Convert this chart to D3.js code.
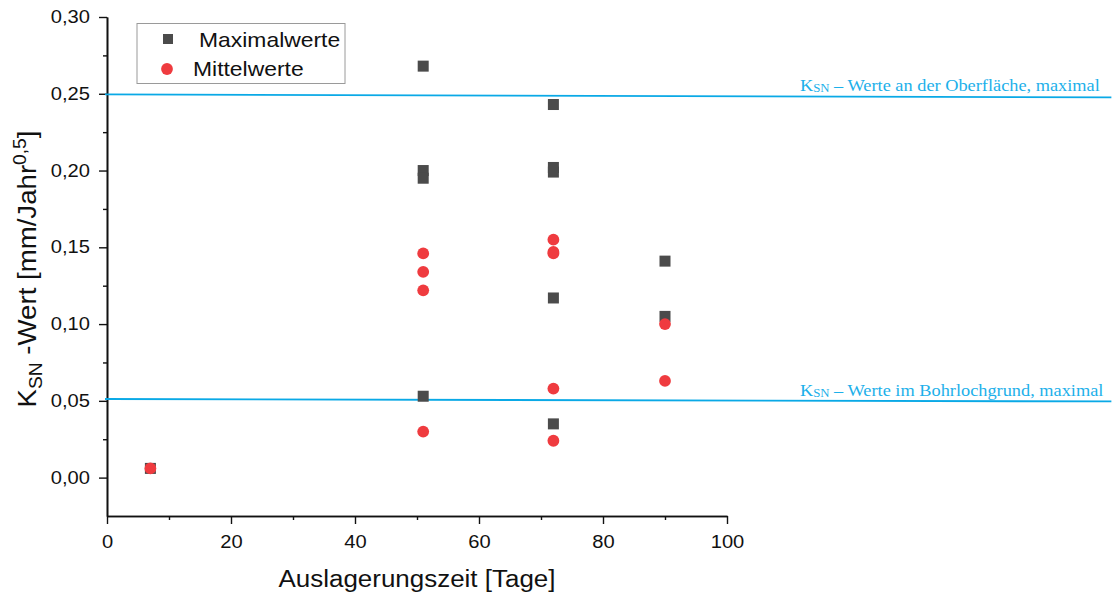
<!DOCTYPE html>
<html>
<head>
<meta charset="utf-8">
<script src="https://cdn.jsdelivr.net/npm/d3@7"></script>
<style>
  html, body { margin: 0; padding: 0; background: #fff; }
  svg { display: block; font-family: "Liberation Sans", Arial, sans-serif; }
</style>
</head>
<body>
<svg id="chart" width="1112" height="596"></svg>
<script>
// ---------- data ----------
const maxDays  = [7, 51, 51, 51, 51, 72, 72, 72, 72, 72, 90, 90];
const maxVals  = [0.006, 0.268, 0.200, 0.195, 0.053, 0.243, 0.202, 0.199, 0.117, 0.035, 0.141, 0.105];
const meanDays = [7, 51, 51, 51, 51, 72, 72, 72, 72, 72, 90, 90];
const meanVals = [0.006, 0.146, 0.134, 0.122, 0.030, 0.155, 0.147, 0.146, 0.058, 0.024, 0.100, 0.063];

const seriesNames = ["Maximalwerte", "Mittelwerte"];
const xTicks = [0, 20, 40, 60, 80, 100];
const xMinorTicks = [10, 30, 50, 70, 90];
const yTicks = [0, 0.05, 0.10, 0.15, 0.20, 0.25, 0.30];
const yMinorTicks = [0.025, 0.075, 0.125, 0.175, 0.225, 0.275];

// reference lines: value at left end and right end (lines are slightly tilted in original)
const refNames = ["Werte an der Oberfläche, maximal", "Werte im Bohrlochgrund, maximal"];
const refStart = [0.2496, 0.0512];
const refEnd   = [0.2476, 0.0496];
const refDayFrom = 0, refDayTo = 162;

// ---------- layout ----------
const svg = d3.select("#chart");
const x = d3.scaleLinear().domain([0, 100]).range([107, 727]);
const y = d3.scaleLinear().domain([-0.025, 0.30]).range([516, 17]);

const fmt = d => d3.format(".2f")(d).replace(".", ",");
function stretch(sel, k) {
  sel.each(function () {
    const L = this.getComputedTextLength();
    this.setAttribute("textLength", L * k);
    this.setAttribute("lengthAdjust", "spacingAndGlyphs");
  });
}

const lineCol = "#0aa9e6", textCol = "#1cb0ea";
const sqCol = "#4b4b4b", ciCol = "#ef3b3f";

// ---------- axes ----------
const gx = svg.append("g").attr("transform", `translate(0,${y.range()[0]})`)
  .call(d3.axisBottom(x).tickValues(xTicks).tickFormat(d3.format("d")).tickSize(8).tickSizeOuter(0).tickPadding(12));
const gxm = svg.append("g").attr("transform", `translate(0,${y.range()[0]})`)
  .call(d3.axisBottom(x).tickValues(xMinorTicks).tickFormat("").tickSize(4).tickSizeOuter(0));
const gy = svg.append("g").attr("transform", `translate(${x.range()[0]},0)`)
  .call(d3.axisLeft(y).tickValues(yTicks).tickFormat(fmt).tickSize(8).tickSizeOuter(0).tickPadding(9));
const gym = svg.append("g").attr("transform", `translate(${x.range()[0]},0)`)
  .call(d3.axisLeft(y).tickValues(yMinorTicks).tickFormat("").tickSize(4).tickSizeOuter(0));

[gx, gxm, gy, gym].forEach(g => {
  g.selectAll("path.domain").attr("stroke", "#111").attr("stroke-width", 1.6);
  g.selectAll(".tick line").attr("stroke", "#111").attr("stroke-width", 1.4);
  g.selectAll("text").attr("fill", "#111").attr("font-size", 17.5)
    .attr("font-family", "'Liberation Sans', Arial, sans-serif");
});
stretch(gx.selectAll(".tick text"), 1.15);
stretch(gy.selectAll(".tick text"), 1.15);

// x axis title
const xt = svg.append("text")
  .attr("x", (x.range()[0] + x.range()[1]) / 2).attr("y", 587)
  .attr("text-anchor", "middle").attr("font-size", 23).attr("fill", "#111")
  .text("Auslagerungszeit [Tage]");
xt.attr("textLength", 277).attr("lengthAdjust", "spacingAndGlyphs");

// y axis title
const yg = svg.append("g").attr("transform", "translate(36,269) scale(1.15,1) rotate(-90)");
const yt = yg.append("text").attr("text-anchor", "middle").attr("font-size", 23).attr("fill", "#111");
yt.append("tspan").text("K");
yt.append("tspan").attr("font-size", 16).attr("dy", 5).text("SN");
yt.append("tspan").attr("dy", -5).text(" -Wert [mm/Jahr");
yt.append("tspan").attr("font-size", 16).attr("dy", -9).text("0,5");
yt.append("tspan").attr("dy", 9).text("]");
yt.attr("textLength", 277).attr("lengthAdjust", "spacingAndGlyphs");

// ---------- reference lines ----------
refNames.forEach((name, i) => {
  svg.append("line")
    .attr("x1", x(refDayFrom) - 2).attr("x2", x(refDayTo))
    .attr("y1", y(refStart[i])).attr("y2", y(refEnd[i]))
    .attr("stroke", lineCol).attr("stroke-width", 1.8);
  const t = svg.append("text")
    .attr("x", 800).attr("y", y(refStart[i]) - 3)
    .attr("font-family", "'Liberation Serif', 'Times New Roman', serif")
    .attr("font-size", 16.5).attr("fill", textCol);
  t.append("tspan").text("K");
  t.append("tspan").attr("font-size", 11.5).attr("dy", 1).text("SN");
  t.append("tspan").attr("dy", -1).text(" – " + name);
  stretch(t, 1.11);
});

// ---------- points ----------
const sq = 11;
svg.append("g").selectAll("rect")
  .data(maxDays.map((d, i) => [d, maxVals[i]]))
  .join("rect")
  .attr("x", d => x(d[0]) - sq / 2).attr("y", d => y(d[1]) - sq / 2)
  .attr("width", sq).attr("height", sq).attr("fill", sqCol);

svg.append("g").selectAll("circle")
  .data(meanDays.map((d, i) => [d, meanVals[i]]))
  .join("circle")
  .attr("cx", d => x(d[0])).attr("cy", d => y(d[1]))
  .attr("r", 5.9).attr("fill", ciCol);

// ---------- legend ----------
const lg = svg.append("g");
lg.append("rect").attr("x", 137).attr("y", 23.5).attr("width", 208).attr("height", 60)
  .attr("fill", "#fff").attr("stroke", "#9a9a9a").attr("stroke-width", 1);
lg.append("rect").attr("x", 168 - 5).attr("y", 39 - 5).attr("width", 10).attr("height", 10).attr("fill", sqCol);
lg.append("circle").attr("cx", 167).attr("cy", 69).attr("r", 5.9).attr("fill", ciCol);
const l1 = lg.append("text").attr("x", 199).attr("y", 46.5).attr("font-size", 21).attr("fill", "#111").text(seriesNames[0]);
const l2 = lg.append("text").attr("x", 193).attr("y", 76).attr("font-size", 21).attr("fill", "#111").text(seriesNames[1]);
stretch(l1, 1.09);
stretch(l2, 1.09);
</script>
</body>
</html>
